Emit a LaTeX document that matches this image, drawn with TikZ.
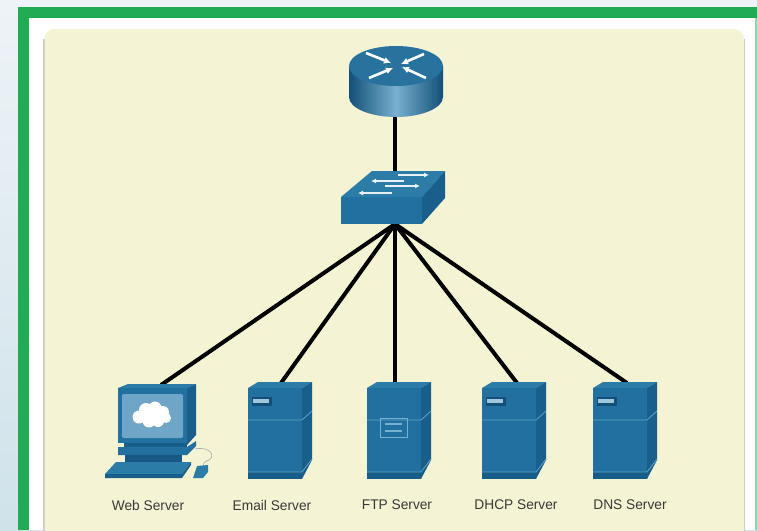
\documentclass[tikz,border=0pt]{standalone}
\usepackage{fontspec}
\setmainfont{Liberation Sans}
\usetikzlibrary{calc,arrows.meta}
\definecolor{panel}{HTML}{F4F3D4}
\definecolor{frame}{HTML}{22AB55}
\definecolor{front}{HTML}{21709F}
\definecolor{topc}{HTML}{2C7CA8}
\definecolor{sidec}{HTML}{1A5F8C}
\definecolor{edgec}{HTML}{5FA3C6}
\definecolor{darkc}{HTML}{134F78}
\definecolor{scr}{HTML}{6FA5C6}
\definecolor{pagetop}{HTML}{EEF3F7}
\definecolor{pagebot}{HTML}{CFE2EA}
\tikzset{
  link/.style={draw=black,line width=4pt},
  lbl/.style={font=\fontsize{14}{16}\selectfont,text=black!78,inner sep=0pt,anchor=center,xscale=.98},
  faceF/.style={fill=front},
  faceT/.style={fill=topc},
  faceS/.style={fill=sidec},
  seam/.style={draw=edgec,line width=0.8pt}
}
% server body: left x of front
\newcommand{\srvbody}[1]{%
  \begin{scope}[shift={(#1,0)}]
    \fill[faceT] (0,388) -- (10,382) -- (64,382) -- (54,388) -- cycle;
    \fill[faceS] (54,388) -- (64,382) -- (64,460) -- (54,479) -- cycle;
    \fill[faceF] (0,388) rectangle (54,479);
    \fill[darkc!60!front] (0,472) rectangle (54,479);
    \draw[seam] (0,420) -- (54,420) -- (64,411);
    \draw[seam] (0,472) -- (54,472) -- (64,459);
  \end{scope}}
\newcommand{\srvbadge}[1]{%
  \begin{scope}[shift={(#1,0)}]
    \fill[darkc] (4,397) rectangle (24,406);
    \fill[edgec!60!white] (5,399) rectangle (21,403);
  \end{scope}}
\begin{document}
\begin{tikzpicture}[x=1pt,y=-1pt]
\useasboundingbox (0,0) rectangle (757,530);
% page and frame
\shade[top color=pagetop,bottom color=pagebot] (0,0) rectangle (757,530);
\fill[frame] (18,7) rectangle (757,530);
\fill[frame!50!white] (755,18) rectangle (757,530);
\fill[white] (29,18) rectangle (755,530);
\draw[black!22,line width=1.5pt] (44,39) -- (44,540);
\draw[black!22,line width=1.5pt] (744.5,39) -- (744.5,540);
\fill[panel,rounded corners=10pt] (44.5,29) rectangle (744,540);
% named ports
\coordinate (routerP) at (395,112);
\coordinate (switchT) at (395,175);
\coordinate (switchB) at (395,224);
\coordinate (webP) at (161,385);
\coordinate (emailP) at (281,383);
\coordinate (ftpP) at (395,383);
\coordinate (dhcpP) at (517,383);
\coordinate (dnsP) at (627,383);
% connectors
\draw[link] (routerP) -- (switchT);
\draw[link] (switchB) -- (webP);
\draw[link] (switchB) -- (emailP);
\draw[link] (switchB) -- (ftpP);
\draw[link] (switchB) -- (dhcpP);
\draw[link] (switchB) -- (dnsP);
% router
\shade[left color=darkc,right color=darkc,middle color=edgec!85!white]
  (349,66) -- (349,97) arc[start angle=180,end angle=0,x radius=47,y radius=20] -- (443,66) -- cycle;
\fill[topc!80!darkc] (396,66) ellipse[x radius=47,y radius=20];
\foreach \a/\b/\c/\d in {366/53/391/63, 424/54/401/64, 369/78/393/68, 426/78/402/67}{
  \draw[white,line width=2.6pt,-{Latex[length=7pt,width=7pt]}] (\a,\b) -- (\c,\d);
}
% switch
\fill[topc] (372,171) -- (445,171) -- (422,197) -- (341,197) -- cycle;
\fill[faceS] (445,171) -- (445,198) -- (422,224) -- (422,197) -- cycle;
\fill[faceF] (341,197) rectangle (422,224);
\foreach \a/\b/\c/\d in {398/175/429/175, 404/181/371/181, 385/186/420/186, 392/193/358/193}{
  \draw[white!85!edgec,line width=1.3pt,-{Latex[length=5pt,width=5pt]}] (\a,\b) -- (\c,\d);
}
% web server
\draw[black!35,line width=.6pt] (195,449) .. controls (210,446) and (216,456) .. (209,460) .. controls (204,462) and (203,463) .. (203,466);
\fill[faceT] (118,388) -- (128,384) -- (196,384) -- (187,388) -- cycle;
\fill[faceS] (187,388) -- (196,384) -- (196,435) -- (187,445) -- cycle;
\fill[faceF] (118,388) rectangle (187,443);
\fill[scr,rounded corners=2pt] (122,394) rectangle (183,438);
\fill[white] (139,417) circle (6.5) (146,410) circle (7) (155,408) circle (6.5) (163,412) circle (6) (166,418) circle (5) (158,421) circle (6) (149,421) circle (6.5) (152,415) circle (7);
\fill[sidec] (124,443) -- (187,443) -- (187,448) -- (124,448) -- cycle;
\fill[faceF] (118,447) -- (187,447) -- (196,441) -- (196,446) -- (187,455) -- (118,455) -- cycle;
\fill[darkc!70!front] (125,455) rectangle (182,462);
\fill[topc] (116,462) -- (191,462) -- (182,474) -- (105,474) -- cycle;
\fill[sidec] (105,474) -- (182,474) -- (191,462) -- (191,465) -- (182,478) -- (105,478) -- cycle;
\fill[topc] (197,466) -- (208,465) -- (208,472) -- (203,478) -- (193,478) -- cycle;
% servers
\srvbody{248}\srvbadge{248}
\srvbody{367}
\srvbody{482}\srvbadge{482}
\srvbody{593}\srvbadge{593}
\draw[edgec!85!white,line width=1pt] (380,418) rectangle (407,437);
\draw[edgec!85!white,line width=1.6pt] (385,424) -- (402,424) (385,431) -- (402,431);
% labels
\node[lbl] (webL) at (148,505) {Web Server};
\node[lbl] (emailL) at (272,505) {Email Server};
\node[lbl] (ftpL) at (397,505) {FTP Server};
\node[lbl] (dhcpL) at (516,505) {DHCP Server};
\node[lbl] (dnsL) at (630,505) {DNS Server};
\end{tikzpicture}
\end{document}
